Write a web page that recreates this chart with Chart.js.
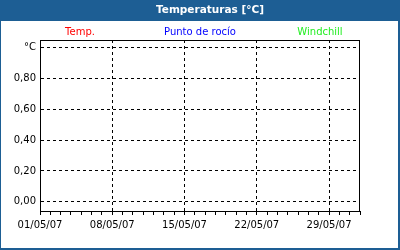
<!DOCTYPE html>
<html lang="es">
<head>
<meta charset="UTF-8">
<title>Temperaturas</title>
<script src="https://cdn.jsdelivr.net/npm/chart.js"></script>
<style>
    body { margin: 0; padding: 0; background: #fff; }
    canvas { display: block; }
</style>
</head>
<body>
<canvas id="chart" width="400" height="250"></canvas>
<script>
// datos (sin valores registrados en el periodo)
const dias = [0, 31];              // 01/05/07 .. 01/06/07, en dias
const etiquetasX = ['01/05/07', '08/05/07', '15/05/07', '22/05/07', '29/05/07'];
const ticksY = [0, 0.2, 0.4, 0.6, 0.8, 1.0];
const series = ['Temp.', 'Punto de rocío', 'Windchill'];
const colores = ['#ff0000', '#0000ff', '#22ee22'];
const temp = [];
const rocio = [];
const windchill = [];
const valores = [temp, rocio, windchill];

const FONT = 'DejaVu Sans';
Chart.defaults.color = '#000';
Chart.defaults.font.family = FONT;
Chart.defaults.font.size = 10;

// marco, barra de titulo y leyenda
const marco = {
    id: 'marco',
    beforeDraw(chart) {
        const ctx = chart.ctx;
        ctx.save();
        ctx.fillStyle = '#fff';
        ctx.fillRect(0, 0, chart.width, chart.height);
        ctx.fillStyle = '#1d5e94';
        ctx.fillRect(0, 0, chart.width, 21);
        ctx.fillRect(0, 0, 1, chart.height);
        ctx.fillRect(chart.width - 2, 0, 2, chart.height);
        ctx.fillRect(0, chart.height - 2, chart.width, 2);
        ctx.restore();
    },
    afterDraw(chart) {
        const ctx = chart.ctx;
        const a = chart.chartArea;
        ctx.save();
        ctx.strokeStyle = '#000';
        ctx.lineWidth = 1;
        ctx.setLineDash([]);
        ctx.strokeRect(a.left + 0.5, a.top + 0.5, a.right - a.left - 1, a.bottom - a.top);
        ctx.textAlign = 'center';
        ctx.textBaseline = 'middle';
        ctx.font = 'bold 10.5px ' + FONT;
        ctx.fillStyle = '#fff';
        ctx.fillText('Temperaturas [°C]', 210, 10.5);
        ctx.font = '10px ' + FONT;
        const pos = [1 / 8, 1 / 2, 7 / 8];
        chart.data.datasets.forEach((ds, i) => {
            ctx.fillStyle = ds.borderColor;
            ctx.fillText(ds.label, a.left + (a.right - a.left) * pos[i], 32);
        });
        ctx.restore();
    }
};

new Chart(document.getElementById('chart'), {
    type: 'line',
    data: {
        datasets: series.map((s, i) => ({
            label: s,
            data: valores[i],
            borderColor: colores[i],
            backgroundColor: colores[i],
            pointRadius: 0
        }))
    },
    options: {
        responsive: false,
        animation: false,
        layout: { padding: { top: 40, right: 40, left: 0, bottom: 0 } },
        plugins: { legend: { display: false }, title: { display: false }, tooltip: { enabled: false } },
        scales: {
            x: {
                type: 'linear',
                min: dias[0],
                max: dias[1],
                afterFit(s) { s.height = 39; },
                ticks: {
                    stepSize: 1,
                    autoSkip: false,
                    maxRotation: 0,
                    padding: 4,
                    callback: v => (v % 7 === 0 ? etiquetasX[v / 7] : '')
                },
                grid: {
                    color: c => (c.tick && c.tick.value % 7 === 0 && c.tick.value > 0 ? '#000' : 'rgba(0,0,0,0)'),
                    tickColor: '#000',
                    tickLength: 4
                },
                border: { color: '#000', width: 1, dash: [3, 3] }
            },
            y: {
                min: -0.06,
                max: 1.05,
                afterFit(s) { s.width = 40; },
                afterBuildTicks(s) { s.ticks = ticksY.map(v => ({ value: v })); },
                ticks: {
                    padding: 4,
                    callback: v => (v === 1 ? '°C' : v.toFixed(2).replace('.', ','))
                },
                grid: {
                    color: '#000',
                    drawTicks: false
                },
                border: { color: '#000', width: 1, dash: [3, 3] }
            }
        }
    },
    plugins: [marco]
});
</script>
</body>
</html>
